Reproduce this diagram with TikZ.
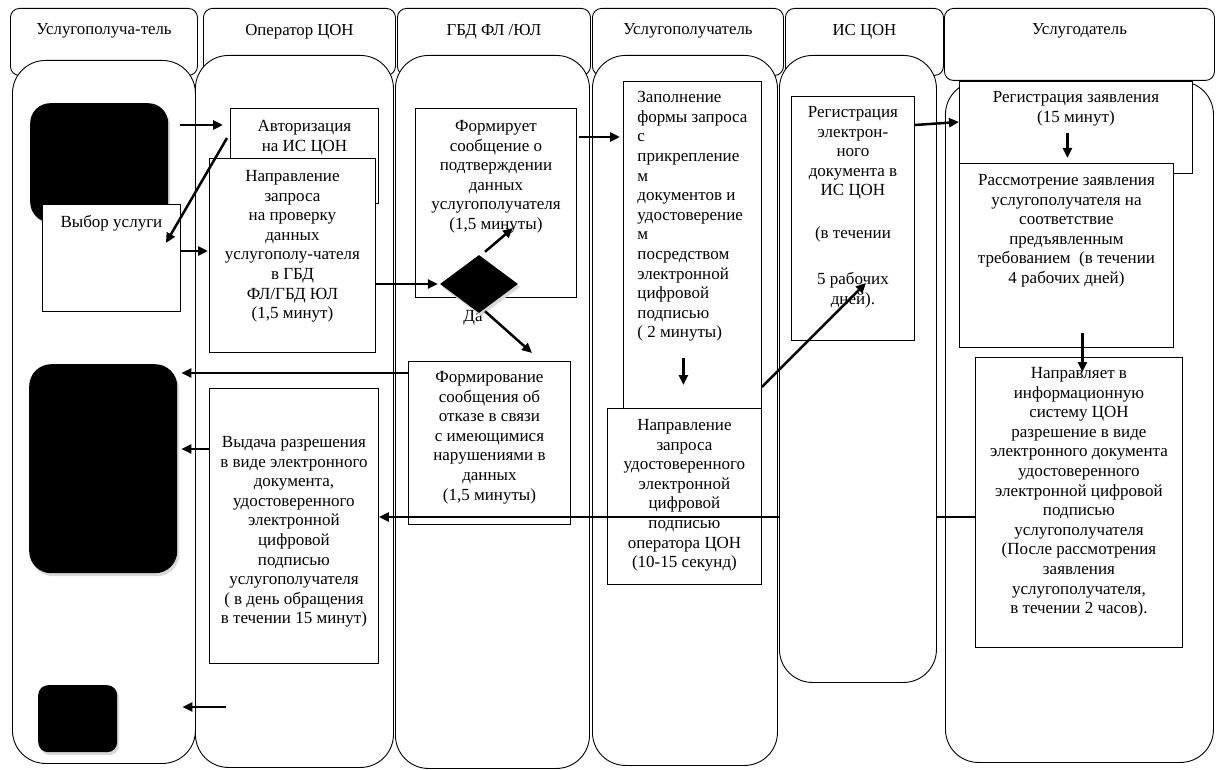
\documentclass[tikz,border=0pt]{standalone}
\usepackage{fontspec}
\setmainfont{Liberation Serif}
\usepackage{tikz}
\usetikzlibrary{positioning, calc, shapes, shapes.geometric, arrows.meta, shadows}
\newcommand{\boxfont}{\fontsize{17}{19.6}\selectfont}
\newcommand{\headfont}{\fontsize{16.8}{19}\selectfont}
\newcommand{\procbox}[4][11]{\parbox[c][#3pt][t]{#2pt}{\centering\vspace*{#1pt}#4\par}}
\newcommand{\procboxl}[4][10]{\parbox[c][#3pt][t]{#2pt}{\raggedright\leftskip=14pt\vspace*{#1pt}#4\par}}
\tikzset{lanehead/.style={draw, rounded corners=9pt, fill=white, line width=0.9pt, anchor=north west, inner sep=0pt, font=\headfont}}
\tikzset{lanebody/.style={draw, rounded corners=33pt, fill=white, line width=0.9pt, anchor=north west, inner sep=0pt}}
\tikzset{proc/.style={draw, fill=white, line width=0.9pt, anchor=north west, inner sep=0pt, font=\boxfont}}
\tikzset{blkbox/.style={fill=black, rounded corners=#1, anchor=north west, inner sep=0pt, drop shadow={shadow xshift=2pt, shadow yshift=-3pt, opacity=1, fill=black!15}}}
\tikzset{decide/.style={diamond, fill=black, inner sep=0pt, minimum width=78pt, minimum height=58pt, drop shadow={shadow xshift=2pt, shadow yshift=-3pt, opacity=1, fill=black!15}}}
\tikzset{arr/.style={draw, -{Triangle[length=10pt,width=9pt]}, line width=2.5pt}}

\begin{document}
\begin{tikzpicture}[x=1pt, y=-1pt]
	\useasboundingbox (0,0) rectangle (1216,770);
	% lane heads
	\node[lanehead] (h1) at (10,8) {\procbox[15.5]{187}{67}{Услугополуча-тель}};
	\node[lanehead] (h2) at (203,8) {\procbox[15.5]{192}{67}{Оператор ЦОН}};
	\node[lanehead] (h3) at (397,8) {\procbox[15.5]{193}{67}{ГБД ФЛ /ЮЛ}};
	\node[lanehead] (h4) at (592,8) {\procbox[15.5]{191}{67}{Услугополучатель}};
	\node[lanehead] (h5) at (785,8) {\procbox[15.5]{158}{67}{ИС ЦОН}};
	\node[lanehead] (h6) at (944,8) {\procbox[15.5]{270}{72}{Услугодатель}};
	%
	% lane bodies
	\node[lanebody, minimum width=183pt, minimum height=703pt] (b1) at (12,60) {};
	\node[lanebody, minimum width=198pt, minimum height=712pt] (b2) at (195,55) {};
	\node[lanebody, minimum width=194pt, minimum height=713pt] (b3) at (395,55) {};
	\node[lanebody, minimum width=185pt, minimum height=710pt] (b4) at (592,55) {};
	\node[lanebody, minimum width=268pt, minimum height=681pt] (b6) at (945,81) {};
	%
	% steps
	\node[blkbox=20pt, minimum width=138pt, minimum height=119pt] (blk1) at (30,103) {};
	\node[proc] (autor) at (230,108) {\procbox[12]{148}{95}{Авторизация\\на ИС ЦОН}};
	\node[proc] (napr) at (209,158) {\procbox[12]{166}{194}{Направление\\запроса\\на проверку\\данных\\услугополу-чателя\\в ГБД\\ФЛ/ГБД ЮЛ\\(1,5 минут)}};
	\node[proc] (vybor) at (42,204) {\procbox[11]{138}{107}{Выбор услуги}};
	\node[proc] (formir) at (415,108) {\procbox[12]{161}{189}{Формирует\\сообщение о\\подтверждении\\данных\\услугополучателя\\(1,5 минуты)}};
	\node[proc] (otkaz) at (408,361) {\procbox[10]{162}{163}{Формирование\\сообщения об\\отказе в связи\\с имеющимися\\нарушениями в\\данных\\(1,5 минуты)}};
	\node[proc] (zapoln) at (623,81) {\procboxl[10]{138}{345}{Заполнение\\формы запроса\\с\\прикрепление\\м\\документов и\\удостоверение\\м\\посредством\\электронной\\цифровой\\подписью\\( 2 минуты)}};
	\node[proc] (zapnapr) at (607,408) {\procbox[11]{154}{176}{Направление\\запроса\\удостоверенного\\электронной\\цифровой\\подписью\\оператора ЦОН\\(10-15 секунд)}};
	\node[proc] (regz) at (959,81) {\procbox[10]{233}{92}{Регистрация заявления\\(15 минут)}};
	\node[proc] (rassm) at (959,163) {\procbox[11]{214}{184}{Рассмотрение заявления\\услугополучателя на\\соответствие\\предъявленным\\требованием~ (в течении\\4 рабочих дней)}};
	\node[proc] (napravl) at (975,357) {\procbox[10]{207}{290}{Направляет в\\информационную\\систему ЦОН\\разрешение в виде\\электронного документа\\удостоверенного\\электронной цифровой\\подписью\\услугополучателя\\(После рассмотрения\\заявления\\услугополучателя,\\в течении 2 часов).}};
	\node[proc] (vydacha) at (209,388) {\procbox[48]{169}{275}{Выдача разрешения\\в виде электронного\\документа,\\удостоверенного\\электронной\\цифровой\\подписью\\услугополучателя\\( в день обращения\\в течении 15 минут)}};
	\node[blkbox=22pt, minimum width=148pt, minimum height=209pt] (blk2) at (29,364) {};
	\node[blkbox=10pt, minimum width=79pt, minimum height=67pt] (blk3) at (38,685) {};
	\node[font=\boxfont] (da) at (473,318) {Да};
	\node[decide] (dia) at (479,284) {};
	%
	% long return line, passes under the IS lane
	\draw[arr] (napravl.west |- 0,517) to (vydacha.east |- 0,517);
	%
	\node[lanebody, minimum width=157pt, minimum height=627pt] (b5) at (779,55) {};
	\node[proc] (regis) at (791,96) {\procbox[10]{123}{244}{Регистрация\\электрон-\\ного\\документа в\\ИС ЦОН\\[23.4pt](в течении\\[26.4pt]5 рабочих\\дней).}};
	%
	% flow
	\draw[arr, shorten <=12pt, shorten >=7pt] (blk1.east |- 0,125) to (autor.west |- 0,125);
	\draw[arr] ($(autor.north west)+(-3,30)$) to ($(vybor.north east)+(-15,39)$);
	\draw[arr, shorten >=1pt] (vybor.east |- 0,251) to (napr.west |- 0,251);
	\draw[arr, shorten >=2pt] (napr.east |- dia.west) to (dia.west);
	\draw[arr] ($(dia.north)+(6,-3)$) to ($(formir.south west)+(98,-70)$);
	\draw[arr] ($(dia.south)+(6,-2)$) to ($(otkaz.north west)+(124,-8)$);
	\draw[arr, shorten <=2pt, shorten >=3pt] (formir.east |- 0,137) to (zapoln.west |- 0,137);
	\draw[arr] ($(zapnapr.north)+(-1,-50)$) to ($(zapnapr.north)+(-1,-23)$);
	\draw[arr] (zapoln.east |- 0,387) to ($(regis.south west)+(75,-58)$);
	\draw[arr] (regis.east |- 0,125) to (regz.west |- 0,122);
	\draw[arr] ($(rassm.north)+(1,-30)$) to ($(rassm.north)+(1,-5)$);
	\draw[arr] ($(rassm.south)+(16,-15)$) to ($(napravl.north)+(3.5,15)$);
	%
	% results back to the applicant
	\draw[arr, shorten >=4pt] (otkaz.west |- 0,373) to (blk2.east |- 0,373);
	\draw[arr, shorten >=4pt] (vydacha.west |- 0,449) to (blk2.east |- 0,449);
	\coordinate (rcpt) at (226,707);
	\draw[arr, shorten >=65pt] (rcpt) to (blk3.east |- rcpt);
\end{tikzpicture}
\end{document}
